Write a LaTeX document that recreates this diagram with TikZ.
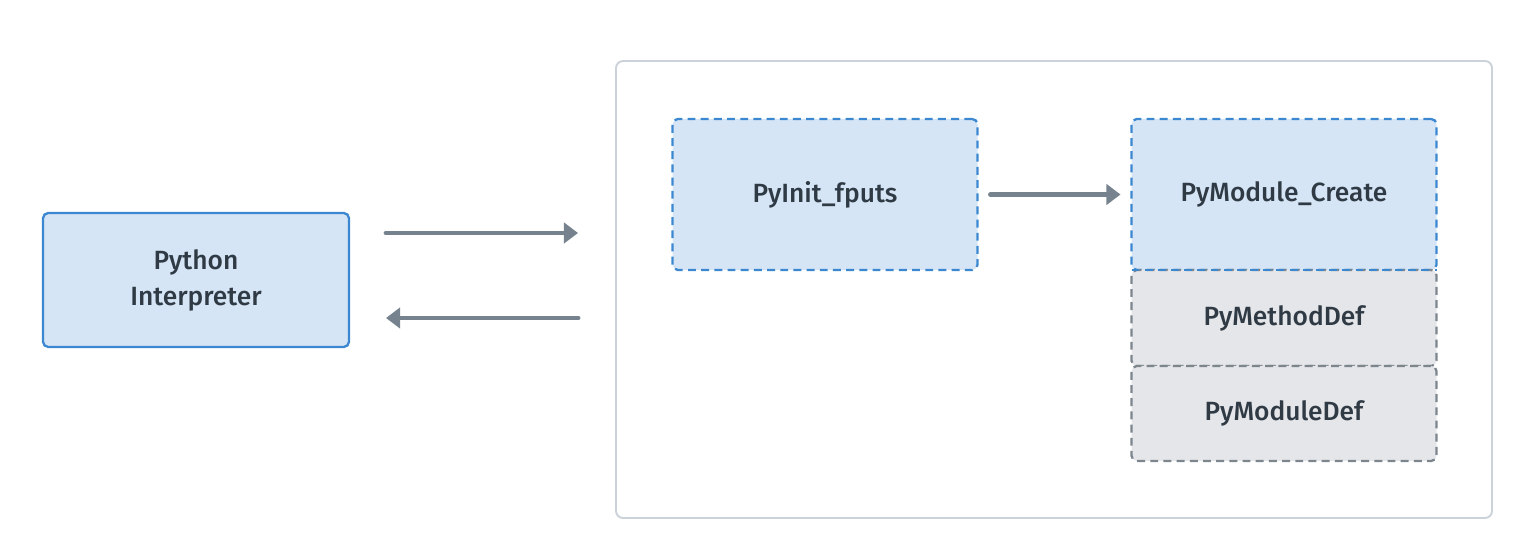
\documentclass[tikz,border=0pt]{standalone}
\usepackage{fontspec}
\setmainfont{Fira Sans Medium}
\usepackage{tikz}
\usetikzlibrary{positioning,arrows.meta,calc}
\definecolor{boxblue}{HTML}{D5E5F5}
\definecolor{edgeblue}{HTML}{3B88D1}
\definecolor{boxgray}{HTML}{E4E6E9}
\definecolor{edgegray}{HTML}{7D858D}
\definecolor{arrowgray}{HTML}{76828E}
\definecolor{framegray}{HTML}{CBD2DA}
\definecolor{textdark}{HTML}{2F3A45}

\begin{document}
\begin{tikzpicture}[
    node distance=3.08cm and 3.08cm,
    box/.style={rounded corners=3pt, line width=1.3pt, align=center, text=textdark,
        font=\fontsize{15}{20.5}\selectfont, inner sep=0pt, outer sep=0pt, minimum width=6.1cm},
    solidbox/.style={box, draw=edgeblue, fill=boxblue},
    dashbox/.style={box, draw=edgeblue, fill=boxblue, dash pattern=on 4.5pt off 3pt},
    graybox/.style={box, draw=edgegray, fill=boxgray, dash pattern=on 4.5pt off 3pt},
    frame/.style={draw=framegray, line width=1.1pt, rounded corners=4pt},
    arr/.style={-{Triangle[length=8pt,width=11.5pt]}, line width=2.8pt, line cap=round, arrowgray}
]
\useasboundingbox (0,0) rectangle (30.3,11.14);

% outer frame
\node[frame, minimum width=17.52cm, minimum height=9.14cm] (frame) at (21.08,5.35) {};

\node[solidbox, minimum width=6.12cm, minimum height=2.68cm] (py) at (3.92,5.54) {Python\\Interpreter};

\node[dashbox, minimum height=3.02cm] (ini) at (16.5,7.25) {PyInit\_fputs};
\node[dashbox, minimum height=3.02cm, right=of ini] (create) {PyModule\_Create};
\node[graybox, minimum height=1.92cm, below=0pt of create] (mdef) {PyMethodDef};
\node[graybox, minimum height=1.9cm, below=0pt of mdef] (moddef) {PyModuleDef};
% blue border on top of the gray ones
\draw[edgeblue, line width=1.3pt, dash pattern=on 4.5pt off 3pt] (create.south west) -- (create.south east);

\draw[arr, shorten <=0.74cm, shorten >=0.74cm] ([yshift=0.94cm]py.east) -- ([yshift=0.94cm]py.east -| frame.west);
\draw[arr, shorten <=0.74cm, shorten >=0.74cm] ([yshift=-0.76cm]py.east -| frame.west) -- ([yshift=-0.76cm]py.east);
\draw[arr, shorten <=0.26cm, shorten >=0.22cm] (ini) -- (create);
\end{tikzpicture}
\end{document}
